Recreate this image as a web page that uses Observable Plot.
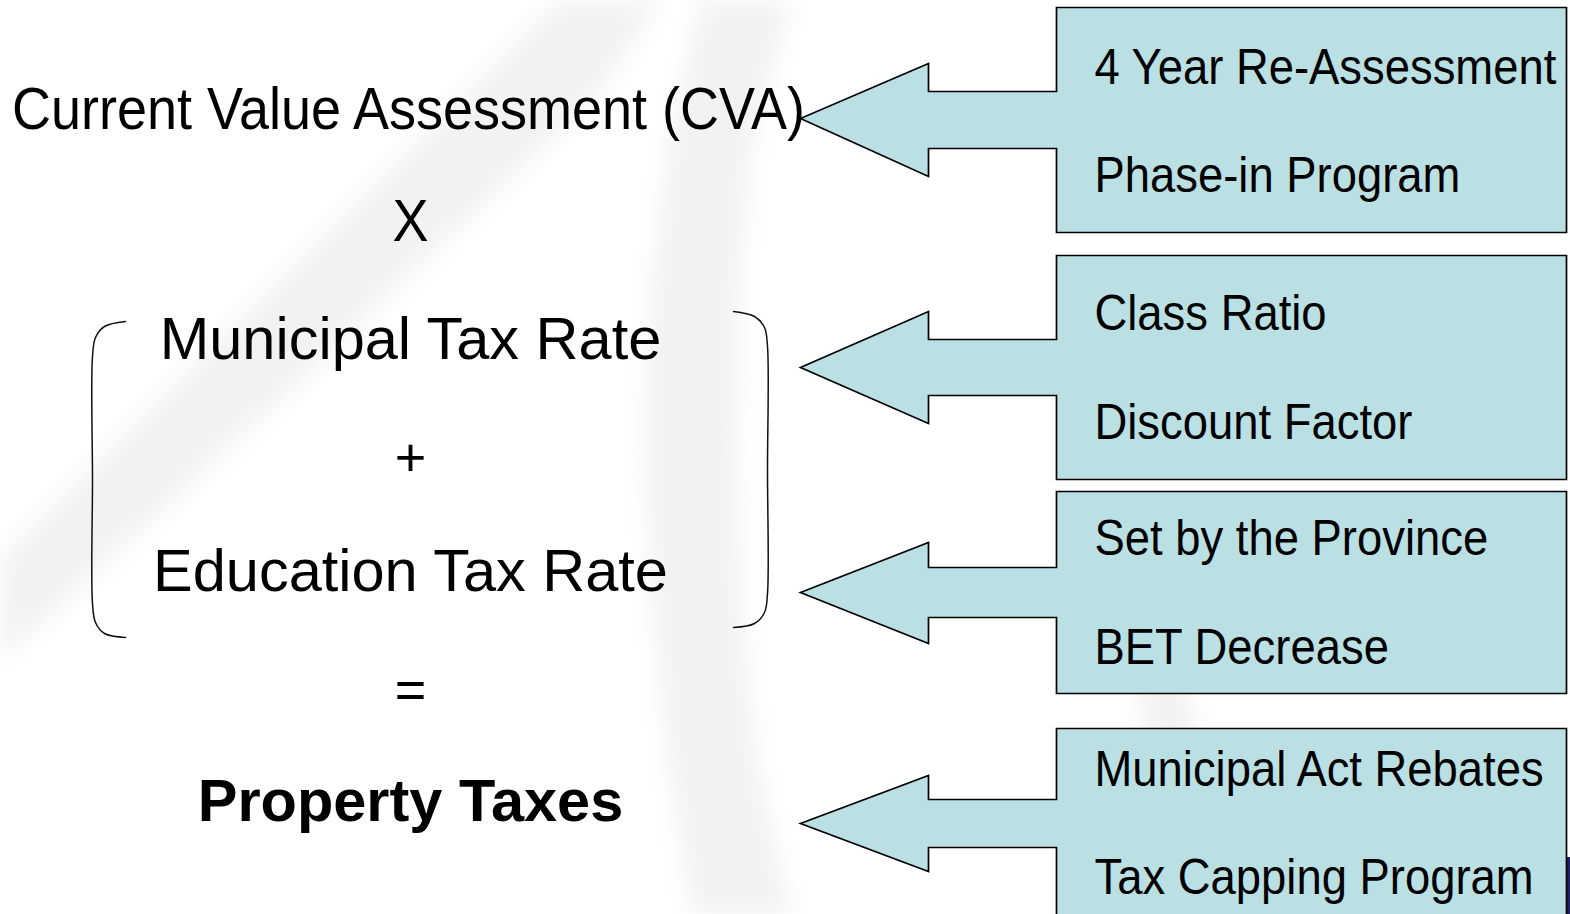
<!DOCTYPE html>
<html>
<head>
<meta charset="utf-8">
<script src="https://cdn.jsdelivr.net/npm/d3@7"></script>
<script src="https://cdn.jsdelivr.net/npm/@observablehq/plot@0.6"></script>
<style>
  html, body { margin: 0; padding: 0; background: #ffffff; overflow: hidden; }
  #chart svg { display: block; }
</style>
</head>
<body>
<div id="chart"></div>
<svg width="0" height="0" style="position:absolute">
  <defs>
    <filter id="wm-blur" filterUnits="userSpaceOnUse" x="-100" y="-100" width="1800" height="1200">
      <feGaussianBlur stdDeviation="12"/>
    </filter>
  </defs>
</svg>
<script>
// ---------- content ----------
const formulaTerms = ["Current Value Assessment (CVA)", "X", "Municipal Tax Rate", "+", "Education Tax Rate", "=", "Property Taxes"];
const formulaRowX  = [408, 410, 410, 410, 410, 410, 410];
const formulaRowY  = [110, 222, 339, 458, 571, 690, 801];

const factorLines = [
  ["4 Year Re-Assessment", "Phase-in Program"],
  ["Class Ratio", "Discount Factor"],
  ["Set by the Province", "BET Decrease"],
  ["Municipal Act Rebates", "Tax Capping Program"]
];
const factorLineY = [[68, 176], [314, 423], [539, 648], [770, 878]];
const factorTextX = 1094;

// ---------- callout geometry (diagram units = pixels) ----------
const boxLeft = 1056, boxRight = 1566, headBaseX = 928, tipX = 800;
const boxTop        = [7, 255, 491, 728];
const boxBottom     = [232, 479, 693, 930];
const arrowTipY     = [118, 367, 592, 823];
const arrowHeadTop  = [63, 311, 542, 775];
const arrowHeadBot  = [176, 423, 643, 871];
const shaftTop      = [91, 339, 567, 799];
const shaftBottom   = [148, 395, 617, 847];

// ---------- brackets ----------
const leftBracketX  = [125, 104, 95, 92, 92, 92, 95, 104, 125];
const leftBracketY  = [321, 326, 337, 356, 480, 603, 622, 633, 637];
const rightBracketX = [733, 754, 764, 767, 767, 767, 764, 754, 733];
const rightBracketY = [311, 316, 327, 346, 470, 593, 612, 623, 627];

// ---------- faint watermark shapes ----------
const watermarkA_X = [0, 0, 300, 600, 660, 560, 260];
const watermarkA_Y = [560, 660, 380, 90, 0, 0, 300];
const watermarkB_X = [700, 668, 650, 645, 652, 668, 692, 790, 756, 740, 735, 738, 750, 790];
const watermarkB_Y = [0, 150, 300, 450, 600, 760, 914, 914, 760, 600, 450, 300, 150, 0];
const watermarkC_X = [1100, 1140, 1180, 1220, 1190, 1150];
const watermarkC_Y = [560, 700, 914, 914, 700, 560];

const cornerMarkX = [1567, 1570];
const cornerMarkY = [857, 914];

// ---------- build tables ----------
const calloutPts = [];
for (let i = 0; i < boxTop.length; i++) {
  const pts = [
    [boxLeft, boxTop[i]], [boxRight, boxTop[i]], [boxRight, boxBottom[i]], [boxLeft, boxBottom[i]],
    [boxLeft, shaftBottom[i]], [headBaseX, shaftBottom[i]], [headBaseX, arrowHeadBot[i]],
    [tipX, arrowTipY[i]], [headBaseX, arrowHeadTop[i]], [headBaseX, shaftTop[i]],
    [boxLeft, shaftTop[i]], [boxLeft, boxTop[i]]
  ];
  pts.forEach(([x, y]) => calloutPts.push({id: i, x, y}));
}

const bracketPts = [];
leftBracketX.forEach((x, j) => bracketPts.push({id: "L", x, y: leftBracketY[j]}));
rightBracketX.forEach((x, j) => bracketPts.push({id: "R", x, y: rightBracketY[j]}));

const watermarkPts = [];
[[watermarkA_X, watermarkA_Y, "A"], [watermarkB_X, watermarkB_Y, "B"], [watermarkC_X, watermarkC_Y, "C"]]
  .forEach(([xs, ys, id]) => { xs.forEach((x, j) => watermarkPts.push({id, x, y: ys[j]})); watermarkPts.push({id, x: xs[0], y: ys[0]}); });

const formulaRows = formulaTerms.map((t, i) => ({t, x: formulaRowX[i], y: formulaRowY[i]}));
const factorRows = [];
factorLines.forEach((lines, i) => lines.forEach((t, j) => factorRows.push({t, x: factorTextX, y: factorLineY[i][j]})));

const font = "'Liberation Sans', Arial, Helvetica, sans-serif";

const svg = Plot.plot({
  width: 1570,
  height: 914,
  margin: 0,
  style: {background: "transparent", fontFamily: font, overflow: "visible"},
  x: {type: "linear", domain: [0, 1570], range: [0, 1570], axis: null},
  y: {type: "linear", domain: [0, 914], range: [0, 914], axis: null},
  marks: [
    Plot.line(watermarkPts, {x: "x", y: "y", z: "id", fill: "#f2f2f2", stroke: "none", curve: "linear"}),
    Plot.rect([0], {x1: () => cornerMarkX[0], x2: () => cornerMarkX[1], y1: () => cornerMarkY[0], y2: () => cornerMarkY[1], fill: "#1f1f6b"}),
    Plot.line(calloutPts, {x: "x", y: "y", z: "id", fill: "#bbe0e3", stroke: "#000", strokeWidth: 1.7,
      strokeLinejoin: "miter", strokeLinecap: "square", strokeMiterlimit: 10, curve: "linear"}),
    Plot.line(bracketPts, {x: "x", y: "y", z: "id", stroke: "#111", strokeWidth: 1.5, curve: "catmull-rom"}),
    Plot.text(formulaRows.filter((d, i) => [0, 1, 3, 5].includes(i)), {x: "x", y: "y", text: "t", fontSize: 54, fill: "#000", textAnchor: "middle", fontFamily: font}),
    Plot.text(formulaRows.filter((d, i) => [2, 4].includes(i)), {x: "x", y: "y", text: "t", fontSize: 59.5, fill: "#000", textAnchor: "middle", fontFamily: font}),
    Plot.text(formulaRows.filter((d, i) => i === 6), {x: "x", y: "y", text: "t", fontSize: 59.5, fontWeight: "bold", fill: "#000", textAnchor: "middle", fontFamily: font}),
    Plot.text(factorRows, {x: "x", y: "y", text: "t", fontSize: 45.4, fill: "#000", textAnchor: "start", fontFamily: font})
  ]
});

// soften the watermark edges (first line mark = watermark)
const wmPaths = svg.querySelectorAll("path[fill='#f2f2f2'], g[fill='#f2f2f2'] path");
wmPaths.forEach(p => p.setAttribute("filter", "url(#wm-blur)"));

// slight vertical stretch for the condensed-looking labels
const stretched = new Set(["Current Value Assessment (CVA)", "X", ...factorLines.flat()]);
d3.select(svg).selectAll("text").each(function() {
  const el = d3.select(this);
  const tr = el.attr("transform");
  if (tr && stretched.has(el.text())) el.attr("transform", tr + " scale(1,1.08)");
});

document.getElementById("chart").appendChild(svg);
</script>
</body>
</html>
